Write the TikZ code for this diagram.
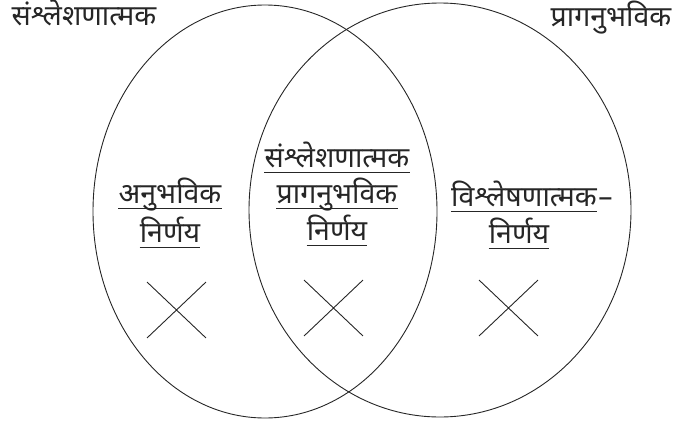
\documentclass[tikz,border=0pt]{standalone}
\usepackage{fontspec}
\newfontfamily\dev[Script=Devanagari]{Noto Sans}
\usetikzlibrary{shapes.geometric,shapes.misc}
\begin{document}
\begin{tikzpicture}[x=1pt,y=-1pt,
  ink/.style={draw=black!85,line width=0.9pt},
  ring/.style={ink,ellipse,inner sep=0pt},
  txt/.style={font=\dev\fontsize{28.5}{32}\selectfont,inner sep=0pt,anchor=base,text=black!85},
  xmark/.style={ink,cross out,inner sep=0pt,minimum width=58pt,minimum height=55pt}]
\useasboundingbox (0,0) rectangle (674,423);
% circles
\node[ring,minimum width=344pt,minimum height=413pt] (L) at (265,211.5) {};
\node[ring,minimum width=382pt,minimum height=414pt] (R) at (440,210) {};
% top labels
\node[txt] (tl) at (84,25) {संश्लेशणात्मक};
\node[txt] (tr) at (611,26) {प्रागनुभविक};
% left block
\node[txt] (l1) at (170,203) {अनुभविक};
\node[txt] (l2) at (170,242) {निर्णय};
% middle block
\node[txt] (m1) at (337,167) {संश्लेशणात्मक};
\node[txt] (m2) at (337,203) {प्रागनुभविक};
\node[txt] (m3) at (337,240) {निर्णय};
% right block
\node[txt] (r1) at (524,206) {विश्लेषणात्मक};
\node[txt,anchor=base west] (rd) at ([xshift=1pt]r1.base east) {–};
\node[txt] (r2) at (519,243) {निर्णय};
% underlines
\foreach \n in {l1,l2,m1,m2,m3,r1,r2}
  \draw[ink,line width=0.8pt] ([yshift=-5pt]\n.base west) -- ([yshift=-5pt]\n.base east);
% crosses
\node[xmark] (x1) at (176.5,310) {};
\node[xmark] (x2) at (333.5,308) {};
\node[xmark] (x3) at (508.5,308) {};
\end{tikzpicture}
\end{document}
